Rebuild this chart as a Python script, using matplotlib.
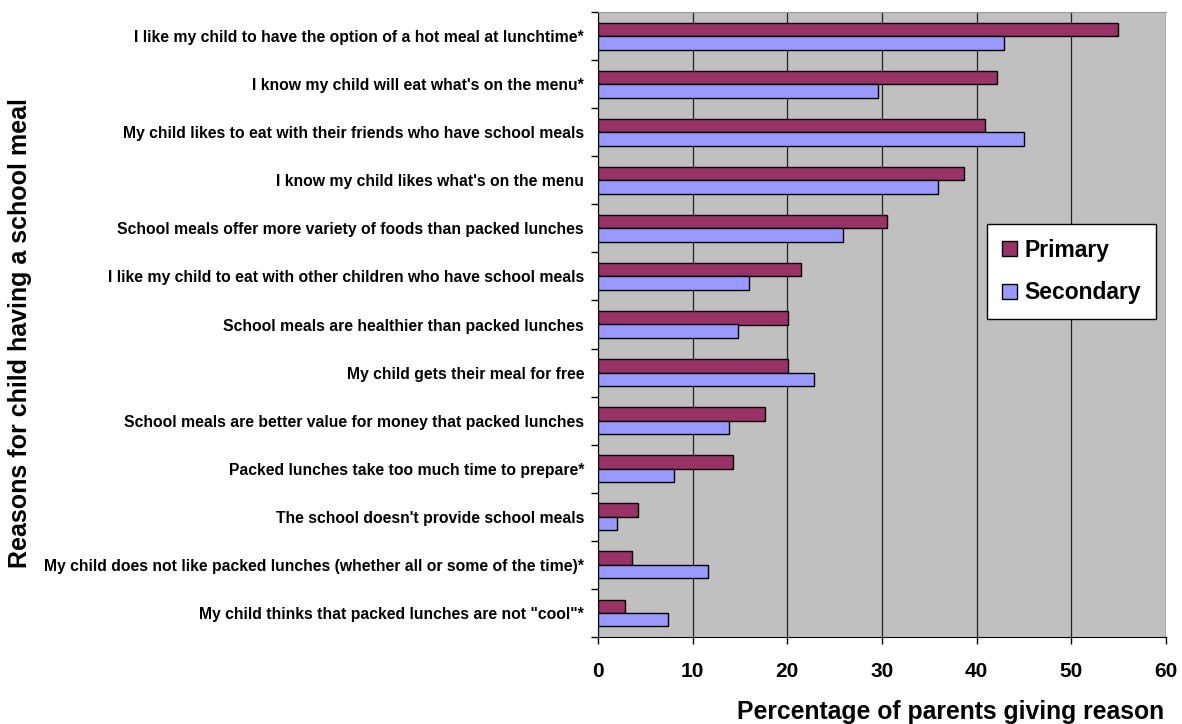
import matplotlib
matplotlib.use("Agg")
import matplotlib.pyplot as plt
import numpy as np

plt.rcParams['font.family'] = ['Liberation Sans', 'DejaVu Sans']

reasons = [
    "I like my child to have the option of a hot meal at lunchtime*",
    "I know my child will eat what's on the menu*",
    "My child likes to eat with their friends who have school meals",
    "I know my child likes what's on the menu",
    "School meals offer more variety of foods than packed lunches",
    "I like my child to eat with other children who have school meals",
    "School meals are healthier than packed lunches",
    "My child gets their meal for free",
    "School meals are better value for money that packed lunches",
    "Packed lunches take too much time to prepare*",
    "The school doesn't provide school meals",
    "My child does not like packed lunches (whether all or some of the time)*",
    "My child thinks that packed lunches are not \"cool\"*",
]
primary = [54.9, 42.2, 40.9, 38.7, 30.5, 21.4, 20.1, 20.1, 17.6, 14.3, 4.2, 3.6, 2.9]
secondary = [42.9, 29.6, 45.0, 35.9, 25.9, 15.9, 14.8, 22.8, 13.8, 8.0, 2.0, 11.6, 7.4]
x_ticks = [0, 10, 20, 30, 40, 50, 60]

W, H = 1182, 724
fig = plt.figure(figsize=(W / 100, H / 100), dpi=100)
ax = fig.add_axes([598 / W, 1 - 637 / H, (1166 - 598) / W, (637 - 12) / H])
ax.set_facecolor('#C0C0C0')

n = len(reasons)
pos = np.arange(n)[::-1].astype(float)
h = 0.28
ax.barh(pos + h / 2, primary, height=h, color='#993366', edgecolor='black', linewidth=1.0,
        label='Primary', zorder=3)
ax.barh(pos - h / 2, secondary, height=h, color='#9999FF', edgecolor='black', linewidth=1.0,
        label='Secondary', zorder=3)

ax.set_xlim(0, 60)
ax.set_ylim(-0.5, n - 0.5)
ax.set_xticks(x_ticks)
ax.set_xticklabels([str(t) for t in x_ticks], fontsize=15, fontweight='bold')
ax.xaxis.grid(True, color='#222222', linewidth=0.9, zorder=0)
ax.set_axisbelow(True)

# category labels at group centres, tick marks at group boundaries
ax.set_yticks(pos)
ax.set_yticklabels(reasons, fontsize=11.3, fontweight='bold')
ax.tick_params(axis='y', which='major', length=0, pad=10)
ax.set_yticks(np.arange(n + 1) - 0.5, minor=True)
ax.tick_params(axis='y', which='minor', length=5, width=1, direction='out')
ax.tick_params(axis='x', length=5, width=1, direction='out', pad=13)

ax.spines['top'].set_color('#999999')
ax.spines['top'].set_linewidth(0.8)
ax.spines['right'].set_visible(False)
ax.spines['left'].set_color('black')
ax.spines['bottom'].set_color('black')

fig.text(951 / W, 1 - 712 / H, 'Percentage of parents giving reason', fontsize=17.8,
         fontweight='bold', ha='center', va='center')
fig.text(20 / W, 1 - 333 / H, 'Reasons for child having a school meal', rotation=90,
         fontsize=18, fontweight='bold', ha='center', va='center')

leg = fig.legend(loc='upper left', bbox_to_anchor=(987 / W, 1 - 224 / H),
                 bbox_transform=fig.transFigure, frameon=True, fancybox=False,
                 prop={'weight': 'bold', 'size': 16.5},
                 handlelength=0.64, handleheight=0.64, handletextpad=0.35,
                 labelspacing=0.85, borderpad=0.65, borderaxespad=0)
leg.get_frame().set_edgecolor('black')
leg.get_frame().set_linewidth(1.0)
leg.get_frame().set_facecolor('white')
leg.get_frame().set_alpha(1)

fig.savefig('out.png', dpi=100)
